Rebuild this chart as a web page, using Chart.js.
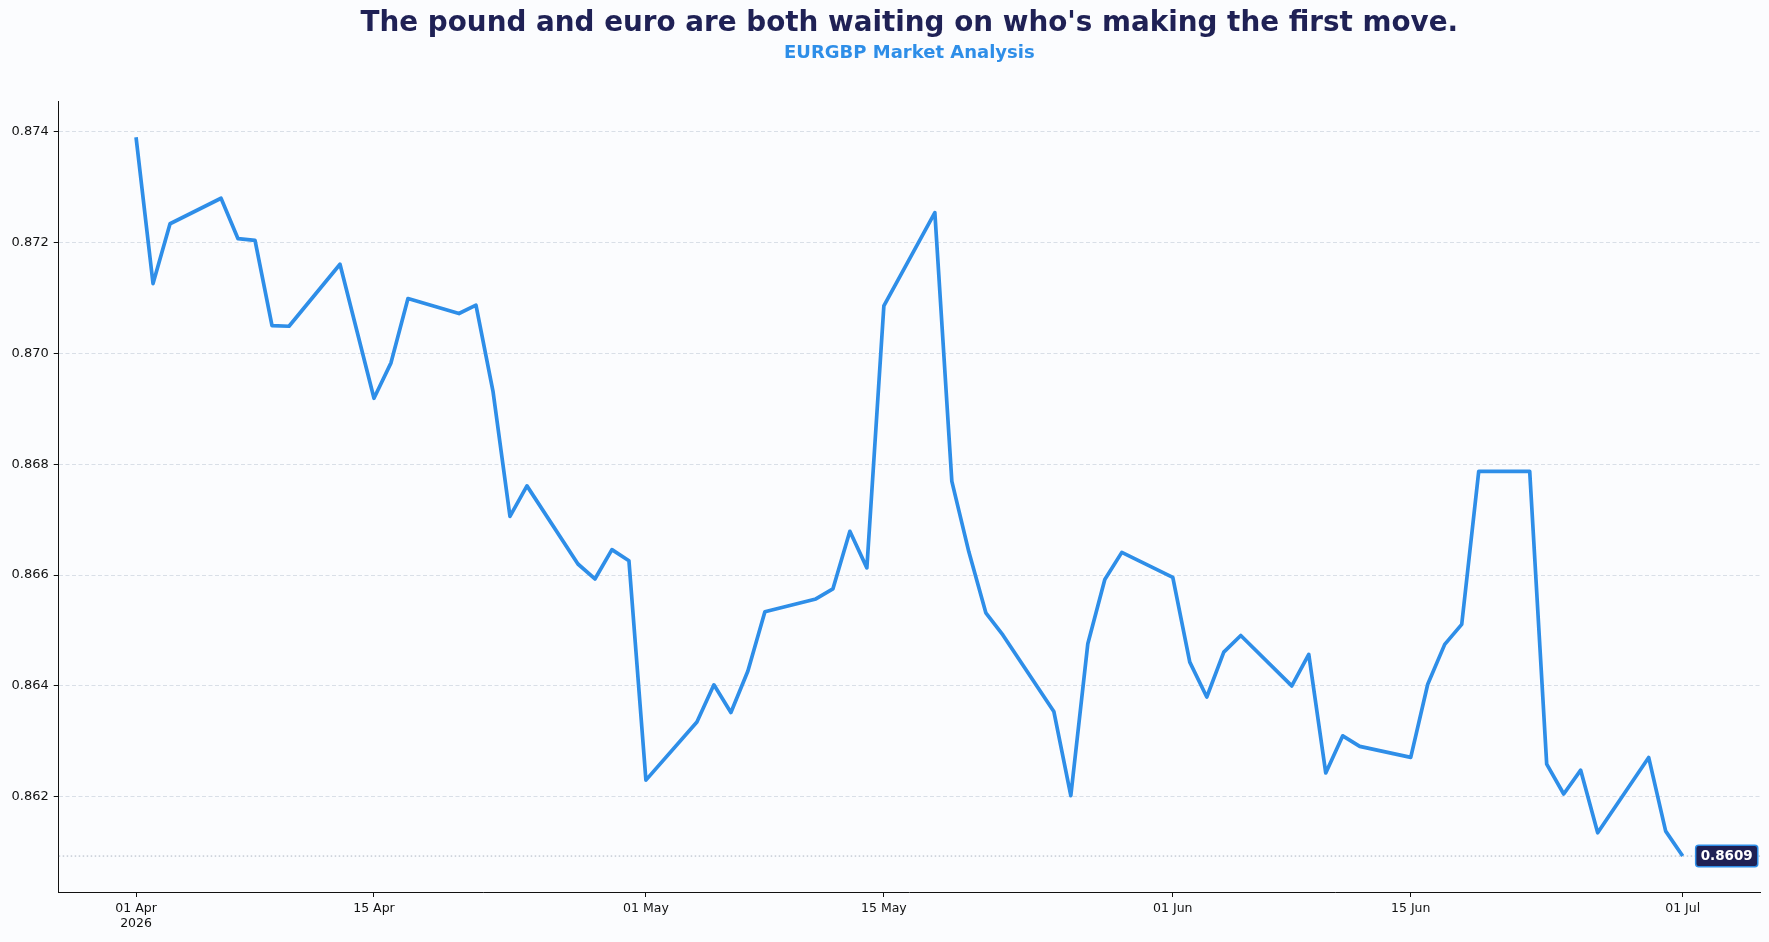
<!DOCTYPE html>
<html>
<head>
<meta charset="utf-8">
<title>EURGBP Market Analysis</title>
<script src="https://cdn.jsdelivr.net/npm/chart.js@4.4.1/dist/chart.umd.min.js"></script>
<style>
  html, body { margin: 0; padding: 0; background: #fbfcfe; }
  #wrap { width: 1769px; height: 942px; position: relative; }
</style>
</head>
<body>
<div id="wrap"><canvas id="fxChart"></canvas></div>
<script>
  // EURGBP daily closes (business days)
  const titleText = "The pound and euro are both waiting on who's making the first move.";
  const subtitleText = 'EURGBP Market Analysis';

  const dates = [
    '2026-04-01','2026-04-02','2026-04-03','2026-04-06','2026-04-07','2026-04-08','2026-04-09','2026-04-10',
    '2026-04-13','2026-04-14','2026-04-15','2026-04-16','2026-04-17','2026-04-20','2026-04-21','2026-04-22',
    '2026-04-23','2026-04-24','2026-04-27','2026-04-28','2026-04-29','2026-04-30',
    '2026-05-01','2026-05-04','2026-05-05','2026-05-06','2026-05-07','2026-05-08','2026-05-11','2026-05-12',
    '2026-05-13','2026-05-14','2026-05-15','2026-05-18','2026-05-19','2026-05-20','2026-05-21','2026-05-22',
    '2026-05-25','2026-05-26','2026-05-27','2026-05-28','2026-05-29',
    '2026-06-01','2026-06-02','2026-06-03','2026-06-04','2026-06-05','2026-06-08','2026-06-09','2026-06-10',
    '2026-06-11','2026-06-12','2026-06-15','2026-06-16','2026-06-17','2026-06-18','2026-06-19','2026-06-22',
    '2026-06-23','2026-06-24','2026-06-25','2026-06-26','2026-06-29','2026-06-30',
    '2026-07-01'
  ];
  const closes = [
    0.87390, 0.87126, 0.87234, 0.87280, 0.87207, 0.87204, 0.87050, 0.87049,
    0.87161, 0.87040, 0.86919, 0.86983, 0.87099, 0.87072, 0.87087, 0.86932,
    0.86706, 0.86761, 0.86620, 0.86593, 0.86646, 0.86626,
    0.86230, 0.86335, 0.86402, 0.86352, 0.86427, 0.86534, 0.86557, 0.86575,
    0.86679, 0.86613, 0.87086, 0.87254, 0.86769, 0.86642, 0.86532, 0.86492,
    0.86354, 0.86202, 0.86476, 0.86592, 0.86641,
    0.86596, 0.86443, 0.86380, 0.86461, 0.86491, 0.86400, 0.86457, 0.86243,
    0.86310, 0.86291, 0.86271, 0.86403, 0.86475, 0.86511, 0.86787, 0.86787,
    0.86259, 0.86205, 0.86248, 0.86135, 0.86271, 0.86138,
    0.86093
  ];

  const xTickDates = ['2026-04-01','2026-04-15','2026-05-01','2026-05-15','2026-06-01','2026-06-15','2026-07-01'];
  const xTickLabels = [['01 Apr','2026'], '15 Apr', '01 May', '15 May', '01 Jun', '15 Jun', '01 Jul'];
  const yTicks = [0.862, 0.864, 0.866, 0.868, 0.870, 0.872, 0.874];

  const BLUE = '#2e8ee8';
  const NAVY = '#1f2155';

  // days since the first date, so a linear axis behaves like a date axis
  const t0 = Date.parse(dates[0] + 'T00:00:00Z');
  function dayOf(d){ return Math.round((Date.parse(d + 'T00:00:00Z') - t0) / 86400000); }

  const points = dates.map((d, i) => ({ x: dayOf(d), y: closes[i] }));
  const lastPoint = points[points.length - 1];

  // matplotlib-like 5% margins
  const xSpan = points[points.length - 1].x - points[0].x;
  const xMin = points[0].x - 0.05 * xSpan;
  const xMax = lastPoint.x + 0.05 * xSpan;
  const yLo = Math.min(...closes), yHi = Math.max(...closes);
  const yMin = yLo - 0.05 * (yHi - yLo);
  const yMax = yHi + 0.05 * (yHi - yLo);

  // tag with the latest value, sitting just right of the last point
  const lastValuePlugin = {
    id: 'lastValueTag',
    afterDatasetsDraw(chart) {
      const xs = chart.scales.x, ys = chart.scales.y;
      if (!xs || !ys) return;
      const ctx = chart.ctx;
      const text = lastPoint.y.toFixed(4);
      ctx.save();
      ctx.font = 'bold 13.5px "DejaVu Sans"';
      const w = ctx.measureText(text).width + 10;
      const h = 21.5;
      const left = xs.getPixelForValue(lastPoint.x) + 13;
      const cy = ys.getPixelForValue(lastPoint.y);
      const top = cy - h / 2, r = 3;
      ctx.beginPath();
      ctx.moveTo(left + r, top);
      ctx.lineTo(left + w - r, top);
      ctx.quadraticCurveTo(left + w, top, left + w, top + r);
      ctx.lineTo(left + w, top + h - r);
      ctx.quadraticCurveTo(left + w, top + h, left + w - r, top + h);
      ctx.lineTo(left + r, top + h);
      ctx.quadraticCurveTo(left, top + h, left, top + h - r);
      ctx.lineTo(left, top + r);
      ctx.quadraticCurveTo(left, top, left + r, top);
      ctx.closePath();
      ctx.fillStyle = NAVY;
      ctx.fill();
      ctx.lineWidth = 1.5;
      ctx.strokeStyle = BLUE;
      ctx.stroke();
      ctx.fillStyle = '#ffffff';
      ctx.textAlign = 'center';
      ctx.textBaseline = 'middle';
      ctx.fillText(text, left + w / 2, cy + 0.5);
      ctx.restore();
    }
  };

  Chart.defaults.font.family = '"DejaVu Sans", sans-serif';
  Chart.defaults.color = '#111111';

  const ctx = document.getElementById('fxChart').getContext('2d');
  const fxChart = new Chart(ctx, {
    type: 'line',
    data: {
      datasets: [
        {
          label: 'EURGBP',
          data: points,
          borderColor: BLUE,
          borderWidth: 3.7,
          borderJoinStyle: 'round',
          borderCapStyle: 'butt',
          tension: 0,
          pointRadius: 0,
          fill: false,
          order: 1
        },
        {
          label: 'last',
          data: [{ x: xMin, y: lastPoint.y }, { x: xMax, y: lastPoint.y }],
          borderColor: '#aab3c0',
          borderWidth: 1,
          borderDash: [1.5, 2.5],
          pointRadius: 0,
          fill: false,
          order: 2
        }
      ]
    },
    options: {
      responsive: true,
      maintainAspectRatio: false,
      animation: false,
      layout: { padding: { left: 6.5, right: 9, top: 0, bottom: 7 } },
      plugins: {
        legend: { display: false },
        tooltip: { enabled: false },
        // fullSize:false keeps both headings centred over the plot, not the page
        title: {
          display: true, fullSize: false, text: titleText, color: NAVY,
          font: { size: 27.8, weight: 'bold' }, padding: { top: 7.3, bottom: 0 }
        },
        subtitle: {
          display: true, fullSize: false, text: subtitleText, color: BLUE,
          font: { size: 18, weight: 'bold' }, padding: { top: 2.1, bottom: 37 }
        }
      },
      scales: {
        x: {
          type: 'linear',
          min: xMin,
          max: xMax,
          afterBuildTicks(scale) { scale.ticks = xTickDates.map(d => ({ value: dayOf(d) })); },
          ticks: {
            autoSkip: false, maxRotation: 0, padding: 4,
            font: { size: 12.5 }, color: '#111111',
            callback: (v, i) => xTickLabels[i]
          },
          grid: { drawOnChartArea: false, drawTicks: true, tickLength: 5, tickColor: '#111111', tickWidth: 1 },
          border: { display: true, color: '#111111', width: 1 }
        },
        y: {
          type: 'linear',
          min: yMin,
          max: yMax,
          afterBuildTicks(scale) { scale.ticks = yTicks.map(v => ({ value: v })); },
          ticks: {
            padding: 5, font: { size: 13 }, color: '#111111',
            callback: v => Number(v).toFixed(3)
          },
          grid: { color: 'rgba(176,188,204,0.45)', lineWidth: 1, tickLength: 5, tickColor: '#111111', tickWidth: 1 },
          border: { display: true, color: '#111111', width: 1, dash: [4, 2.5] }
        }
      }
    },
    plugins: [lastValuePlugin]
  });
</script>
</body>
</html>
